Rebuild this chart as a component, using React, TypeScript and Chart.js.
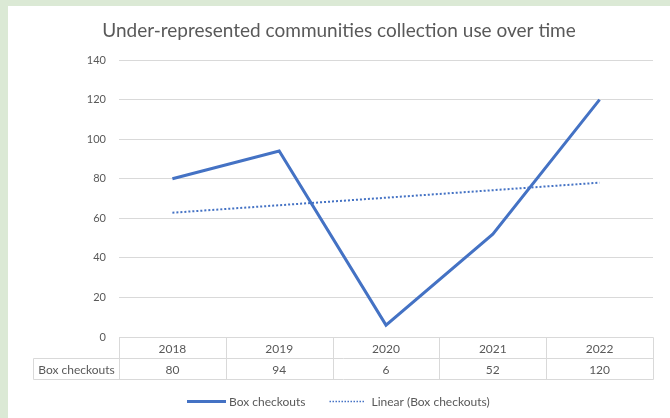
import React, { useEffect, useRef } from 'react';
import { Chart, registerables } from 'chart.js';

Chart.register(...registerables);

const titleText = 'Under-represented communities collection use over time';
const years = ['2018', '2019', '2020', '2021', '2022'];
const boxCheckouts = [80, 94, 6, 52, 120];
const linearTrend = [62.8, 66.6, 70.4, 74.2, 78];
const seriesName = 'Box checkouts';
const trendName = 'Linear (Box checkouts)';
const yMin = 0;
const yMax = 140;
const yStep = 20;

const FONT = 'Lato, "Open Sans", "Noto Sans", sans-serif';
const TEXT = '#595959';
const GRID = '#d9d9d9';
const BLUE = '#4472c4';

const tablePlugin = {
  id: 'dataTable',
  afterDraw(chart: any) {
    const { ctx, chartArea, scales } = chart;
    const xs = scales.x;
    const n = years.length;
    const left = Math.round(chartArea.left) + 0.5;
    const right = Math.round(chartArea.right) + 0.5;
    const top = Math.round(chartArea.bottom) + 0.5;
    const rowH = 21;
    const tableLeft = 25.5;
    const bounds: number[] = [left];
    for (let i = 1; i < n; i++) {
      bounds.push(Math.round((xs.getPixelForValue(i - 1) + xs.getPixelForValue(i)) / 2) + 0.5);
    }
    bounds.push(right);
    ctx.save();
    const line = (x1: number, y1: number, x2: number, y2: number) => {
      ctx.beginPath();
      ctx.moveTo(x1, y1);
      ctx.lineTo(x2, y2);
      ctx.stroke();
    };

    // title
    ctx.fillStyle = TEXT;
    ctx.font = `19px ${FONT}`;
    ctx.textAlign = 'center';
    ctx.textBaseline = 'middle';
    ctx.fillText(titleText, (chartArea.left + chartArea.right) / 2 - 47, 25);

    ctx.strokeStyle = GRID;
    ctx.lineWidth = 1;
    line(left, top, right, top);
    line(tableLeft, top + rowH, right, top + rowH);
    line(tableLeft, top + 2 * rowH, right, top + 2 * rowH);
    line(tableLeft, top + rowH, tableLeft, top + 2 * rowH);
    bounds.forEach((b) => line(b, top, b, top + 2 * rowH));

    ctx.font = `12px ${FONT}`;
    for (let i = 0; i < n; i++) {
      const cx = xs.getPixelForValue(i);
      ctx.fillText(years[i], cx, top + rowH / 2 + 1);
      ctx.fillText(String(boxCheckouts[i]), cx, top + rowH * 1.5 + 1);
    }
    ctx.fillText(seriesName, (tableLeft + left) / 2, top + rowH * 1.5 + 1);

    // legend
    const ly = Math.round(top + 2 * rowH + 21) + 0.5;
    ctx.textAlign = 'left';
    const w1 = ctx.measureText(seriesName).width;
    const w2 = ctx.measureText(trendName).width;
    let x = 179;
    ctx.strokeStyle = BLUE;
    ctx.lineWidth = 3;
    line(x, ly, x + 39, ly);
    x += 42;
    ctx.fillText(seriesName, x, ly + 1);
    x += w1 + 24;
    ctx.lineWidth = 1.5;
    ctx.setLineDash([1.5, 1.5]);
    line(x, ly, x + 36, ly);
    ctx.setLineDash([]);
    x += 42;
    ctx.fillText(trendName, x, ly + 1);
    ctx.restore();
  },
};

export default function App() {
  const ref = useRef<HTMLCanvasElement | null>(null);
  useEffect(() => {
    if (!ref.current) return;
    const chart = new Chart(ref.current, {
      type: 'line',
      data: {
        labels: years,
        datasets: [
          {
            label: seriesName,
            data: boxCheckouts,
            borderColor: BLUE,
            backgroundColor: BLUE,
            borderWidth: 3,
            pointRadius: 0,
            tension: 0,
            fill: false,
          },
          {
            label: trendName,
            data: linearTrend,
            borderColor: BLUE,
            backgroundColor: BLUE,
            borderWidth: 2,
            borderDash: [2, 2],
            pointRadius: 0,
            tension: 0,
            fill: false,
          },
        ],
      },
      options: {
        animation: false,
        responsive: false,
        maintainAspectRatio: false,
        layout: { padding: { top: 54, right: 17, bottom: 81, left: 0 } },
        plugins: {
          legend: { display: false },
          tooltip: { enabled: false },
          title: { display: false },
        },
        scales: {
          x: { display: false, offset: true },
          y: {
            min: yMin,
            max: yMax,
            ticks: {
              stepSize: yStep,
              color: TEXT,
              padding: 13,
              font: { family: FONT, size: 11 },
            },
            grid: { color: GRID, drawTicks: false, lineWidth: 1 },
            border: { display: false },
            afterFit(scale: any) {
              scale.width = 111;
            },
          },
        },
      },
      plugins: [tablePlugin],
    });
    return () => chart.destroy();
  }, []);

  return (
    <div style={{ position: 'fixed', left: 0, top: 0, width: 670, height: 418, background: '#dbe9d5' }}>
      <div style={{ position: 'absolute', left: 8, top: 6, width: 662, height: 412, background: '#ffffff' }}>
        <canvas ref={ref} width={662} height={412} style={{ display: 'block', width: 662, height: 412 }} />
      </div>
    </div>
  );
}
